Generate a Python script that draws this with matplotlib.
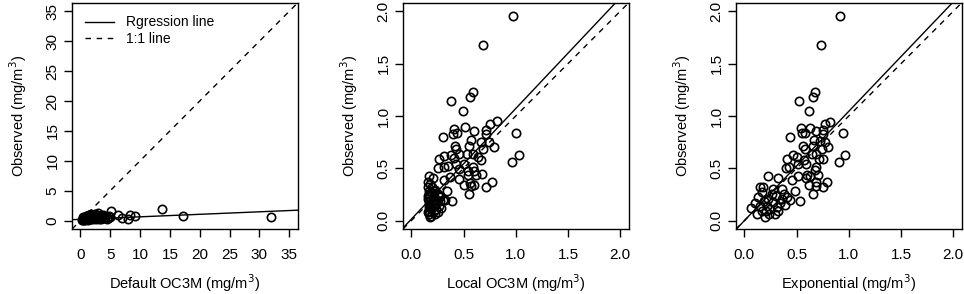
import matplotlib
matplotlib.use("Agg")
import matplotlib.pyplot as plt
import numpy as np

plt.rcParams['font.family'] = ['Liberation Sans', 'DejaVu Sans']

# panel 1: default OC3M vs observed
default_x = [0.3, 0.4, 0.5, 0.6, 0.7, 0.8, 0.9, 1.0, 1.1, 1.2, 1.3, 1.4, 1.5, 1.6, 1.7,
             1.8, 2.0, 2.2, 2.4, 2.6, 2.8, 3.0, 3.2, 3.4, 3.6, 3.8, 4.0, 4.2, 4.5, 4.8,
             0.5, 0.8, 1.2, 1.5, 1.9, 2.3, 2.7, 3.1, 3.5, 4.1, 4.6, 1.0, 1.4, 2.1, 2.9,
             3.3, 0.6, 5.0, 5.1, 6.3, 6.9, 7.9, 8.25, 9.2, 13.6, 17.2, 32.0]
default_y = [0.05, 0.15, 0.3, 0.1, 0.45, 0.2, 0.6, 0.35, 0.8, 0.25, 0.55, 1.0, 0.4, 0.7, 1.15,
             0.3, 0.85, 0.5, 1.05, 0.2, 0.9, 1.2, 0.6, 0.35, 0.75, 0.95, 0.5, 0.65, 0.3, 0.85,
             0.55, 0.1, 0.15, 0.9, 0.45, 0.7, 0.4, 0.25, 1.0, 0.6, 0.45, 0.75, 0.2, 0.35, 0.65,
             0.85, 0.4, 0.55, 1.68, 1.0, 0.45, 0.28, 1.0, 0.72, 1.96, 0.78, 0.62]

# panel 2: local OC3M vs observed
local_x = [0.973, 0.685, 0.586, 0.566, 0.381, 0.499, 0.816, 0.749, 1.005, 1.030, 0.966,
           0.518, 0.406, 0.403, 0.438, 0.301, 0.602, 0.573, 0.714, 0.720, 0.742, 0.794,
           0.666, 0.691, 0.422, 0.432, 0.557, 0.534, 0.595, 0.669, 0.640, 0.384, 0.317,
           0.269, 0.406, 0.458, 0.509, 0.429, 0.355, 0.317, 0.259, 0.461, 0.541, 0.592,
           0.602, 0.618, 0.547, 0.461, 0.509, 0.570, 0.563, 0.605, 0.678, 0.717, 0.774,
           0.557, 0.314, 0.374, 0.342, 0.390, 0.320, 0.166, 0.205, 0.224, 0.272, 0.278,
           0.285, 0.160, 0.166, 0.163, 0.170, 0.166, 0.170, 0.166, 0.173, 0.176, 0.186,
           0.182, 0.192, 0.198, 0.205, 0.214, 0.230, 0.246, 0.198, 0.214, 0.230, 0.256,
           0.278, 0.192, 0.179, 0.163, 0.176, 0.214, 0.237, 0.253, 0.160, 0.173, 0.186,
           0.160, 0.211, 0.262, 0.301, 0.227]
local_y = [1.952, 1.677, 1.229, 1.184, 1.142, 1.043, 0.954, 0.925, 0.838, 0.627, 0.557,
           0.890, 0.880, 0.832, 0.838, 0.800, 0.858, 0.768, 0.864, 0.832, 0.752, 0.704,
           0.755, 0.682, 0.714, 0.688, 0.717, 0.640, 0.640, 0.582, 0.608, 0.630, 0.618,
           0.592, 0.595, 0.634, 0.544, 0.544, 0.522, 0.512, 0.506, 0.490, 0.474, 0.512,
           0.474, 0.435, 0.432, 0.397, 0.336, 0.333, 0.362, 0.342, 0.442, 0.320, 0.374,
           0.253, 0.384, 0.416, 0.282, 0.186, 0.202, 0.426, 0.410, 0.294, 0.230, 0.186,
           0.122, 0.320, 0.282, 0.240, 0.192, 0.160, 0.128, 0.096, 0.064, 0.032, 0.048,
           0.224, 0.272, 0.176, 0.134, 0.096, 0.154, 0.192, 0.320, 0.240, 0.208, 0.256,
           0.240, 0.112, 0.144, 0.368, 0.352, 0.288, 0.112, 0.080, 0.208, 0.256, 0.154,
           0.080, 0.192, 0.144, 0.198, 0.064]

# panel 3: exponential vs observed
expo_x = [0.917, 0.737, 0.677, 0.658, 0.523, 0.617, 0.816, 0.772, 0.942, 0.961, 0.907,
          0.545, 0.630, 0.548, 0.580, 0.438, 0.682, 0.665, 0.753, 0.756, 0.775, 0.803,
          0.721, 0.740, 0.564, 0.583, 0.658, 0.643, 0.690, 0.715, 0.750, 0.463, 0.409,
          0.507, 0.570, 0.592, 0.513, 0.425, 0.403, 0.454, 0.510, 0.602, 0.633, 0.674,
          0.690, 0.703, 0.591, 0.617, 0.687, 0.687, 0.750, 0.791, 0.655, 0.488, 0.529,
          0.435, 0.230, 0.321, 0.154, 0.183, 0.356, 0.378, 0.409, 0.066, 0.098, 0.135,
          0.120, 0.170, 0.198, 0.214, 0.246, 0.277, 0.293, 0.230, 0.261, 0.309, 0.340,
          0.365, 0.189, 0.151, 0.239, 0.324, 0.387, 0.271, 0.302, 0.208, 0.167]
expo_y = [1.952, 1.677, 1.229, 1.184, 1.142, 1.043, 0.947, 0.922, 0.842, 0.627, 0.557,
          0.886, 0.886, 0.838, 0.842, 0.800, 0.858, 0.768, 0.864, 0.832, 0.752, 0.704,
          0.762, 0.688, 0.714, 0.682, 0.717, 0.640, 0.634, 0.589, 0.589, 0.624, 0.592,
          0.608, 0.582, 0.544, 0.544, 0.512, 0.499, 0.384, 0.422, 0.438, 0.422, 0.480,
          0.512, 0.438, 0.406, 0.336, 0.333, 0.368, 0.320, 0.374, 0.256, 0.282, 0.186,
          0.202, 0.426, 0.410, 0.320, 0.320, 0.304, 0.256, 0.224, 0.118, 0.173, 0.224,
          0.064, 0.096, 0.032, 0.144, 0.112, 0.176, 0.064, 0.208, 0.256, 0.128, 0.166,
          0.208, 0.192, 0.144, 0.064, 0.096, 0.154, 0.304, 0.240, 0.096, 0.272]

# regression fits (intercept, slope)
default_fit = (0.22, 0.042)
local_fit = (0.014, 1.057)
expo_fit = (0.0, 1.045)

panels = [
    (default_x, default_y, default_fit, "Default OC3M (mg/m$^3$)", (-1.4, 36.4), np.arange(0, 36, 5), "%d"),
    (local_x, local_y, local_fit, "Local OC3M (mg/m$^3$)", (-0.08, 2.08), np.arange(0, 2.01, 0.5), "%.1f"),
    (expo_x, expo_y, expo_fit, "Exponential (mg/m$^3$)", (-0.08, 2.08), np.arange(0, 2.01, 0.5), "%.1f"),
]
lefts = [0.0747, 0.418, 0.7635]

fig = plt.figure(figsize=(9.64, 2.94), dpi=100)
for left, (xs, ys, fit, xlabel, lim, ticks, fmt) in zip(lefts, panels):
    ax = fig.add_axes([left, 0.221, 0.234, 0.769])
    ax.plot(xs, ys, 'o', mfc='none', mec='black', ms=6, mew=1.2, ls='none')
    ax.axline((0, fit[0]), slope=fit[1], color='black', lw=1.0, label='Rgression line')
    ax.axline((0, 0), slope=1, color='black', lw=1.0, ls=(0, (4, 4)), label='1:1 line')
    ax.set_xlim(lim)
    ax.set_ylim(lim)
    ax.set_xticks(ticks)
    ax.set_yticks(ticks)
    ax.set_xticklabels([fmt % t for t in ticks])
    ax.set_yticklabels([fmt % t for t in ticks], rotation=90, va='center')
    ax.tick_params(direction='out', length=6, width=1, labelsize=11, color='black')
    ax.tick_params(axis='x', pad=8)
    ax.tick_params(axis='y', pad=3)
    for s in ax.spines.values():
        s.set_linewidth(1.0)
    ax.set_xlabel(xlabel, fontsize=10.5, labelpad=7)
    ax.set_ylabel("Observed (mg/m$^3$)", fontsize=10.5, labelpad=12)
    if left == lefts[0]:
        ax.legend(loc='upper left', frameon=False, fontsize=10, handlelength=2.1,
                  handletextpad=0.9, borderaxespad=0.5, labelspacing=0.15)

fig.savefig("out.png", dpi=100)
